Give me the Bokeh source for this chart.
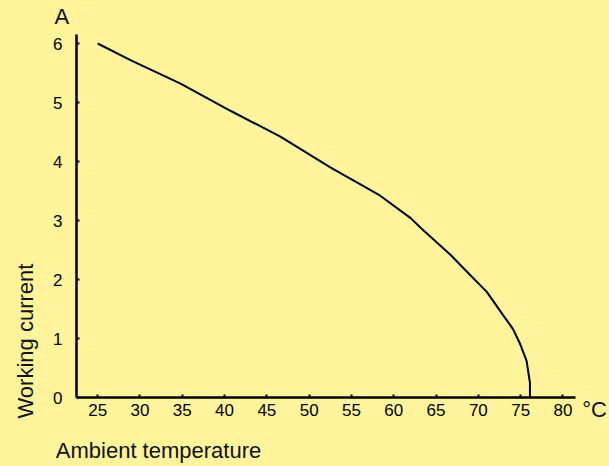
import math
from jinja2 import Template
from bokeh.plotting import figure
from bokeh.models import (Range1d, FixedTicker, LinearAxis, Title,
                          CustomJSTickFormatter)
from bokeh.embed import file_html
from bokeh.resources import INLINE

# ---- data ----
temperature_c = [25.0, 29.0, 34.8, 40.7, 46.6, 52.5, 58.2, 62.0, 63.3, 66.7,
                 69.0, 71.0, 72.9, 74.1, 74.9, 75.7, 76.1, 76.1]
current_a = [6.00, 5.71, 5.32, 4.86, 4.42, 3.90, 3.44, 3.04, 2.86, 2.42,
             2.08, 1.79, 1.40, 1.16, 0.92, 0.62, 0.25, 0.0]

x_ticks = [25, 30, 35, 40, 45, 50, 55, 60, 65, 70, 75, 80]
y_ticks = [0, 1, 2, 3, 4, 5, 6]

x_unit = "°C"
y_unit = "A"
x_title = "Ambient temperature"
y_title = "Working current"

BG = "#FFF49C"
FONT = "Liberation Sans"
TXT = "#111111"
W, H = 609, 466
LEFT, TOP, BOTTOM = 76, 34, 397         # expected frame edges in canvas pixels
PX_PER_C = 8.46
PX_PER_A = 59.0
X0 = 22.5                               # temperature at the y axis

x_end = X0 + (W - LEFT) / PX_PER_C
y_end = (BOTTOM - TOP) / PX_PER_A

p = figure(width=W, height=H, output_backend="svg", toolbar_location=None,
           x_range=Range1d(X0, x_end), y_range=Range1d(0, y_end))
p.min_border_left = LEFT
p.min_border_right = 0
p.min_border_top = 20
p.min_border_bottom = H - BOTTOM
p.background_fill_color = BG
p.border_fill_color = BG
p.outline_line_color = None
p.grid.grid_line_color = None

# unit of the y axis as the (left aligned) title above the frame
p.title.text = y_unit
p.title.align = "left"
p.title.offset = -22
p.title.vertical_align = "top"
p.title.standoff = 7
p.title.text_font = FONT
p.title.text_font_size = "22px"
p.title.text_font_style = "normal"
p.title.text_color = TXT
p.title.text_line_height = 1.0

p.line(temperature_c, current_a, line_color="black", line_width=2)

for ax in (p.xaxis[0], p.yaxis[0]):
    ax.axis_line_color = "black"
    ax.axis_line_width = 2.5
    ax.major_tick_line_color = "black"
    ax.major_tick_line_width = 2
    ax.major_tick_in = 3
    ax.major_tick_out = 0
    ax.minor_tick_line_color = None
    ax.major_label_text_font = FONT
    ax.major_label_text_font_size = "17px"
    ax.major_label_text_color = "black"

p.xaxis[0].ticker = FixedTicker(ticks=x_ticks)
p.xaxis[0].bounds = (X0, 81.5)
p.yaxis[0].ticker = FixedTicker(ticks=y_ticks)
p.yaxis[0].bounds = (0, 6.2)
p.xaxis[0].major_label_standoff = 6
p.yaxis[0].major_label_standoff = 14


def text_axis(tick, text, standoff):
    ax = LinearAxis(ticker=FixedTicker(ticks=[tick]),
                    formatter=CustomJSTickFormatter(code="return %r;" % text),
                    axis_line_color=None, major_tick_line_color=None,
                    minor_tick_line_color=None, major_tick_in=0, major_tick_out=0,
                    major_label_standoff=standoff,
                    major_label_text_font=FONT,
                    major_label_text_font_size="22px",
                    major_label_text_line_height=1.0,
                    major_label_text_color=TXT)
    p.add_layout(ax, "below")
    return ax


# unit of the x axis, right of the last tick label (same row as tick labels)
text_axis(X0 + (594 - LEFT) / PX_PER_C, x_unit, -22)
# x axis title, below the tick labels, left aligned near the canvas edge
text_axis(X0 + (158 - LEFT) / PX_PER_C, x_title, 13)

yt = Title(text=y_title, align="left", offset=-21, vertical_align="top",
           standoff=22, text_font=FONT, text_font_size="22px",
           text_font_style="normal", text_color=TXT, text_line_height=1.0)
p.add_layout(yt, "left")

page = Template("""{% extends base %}
{% block postamble %}<style>html, body { background: #FFF49C; margin: 0; padding: 0; overflow: hidden; }</style>{% endblock %}""")

html = file_html(p, INLINE, title="Working current vs ambient temperature", template=page)
open("out.html", "w").write(html)
